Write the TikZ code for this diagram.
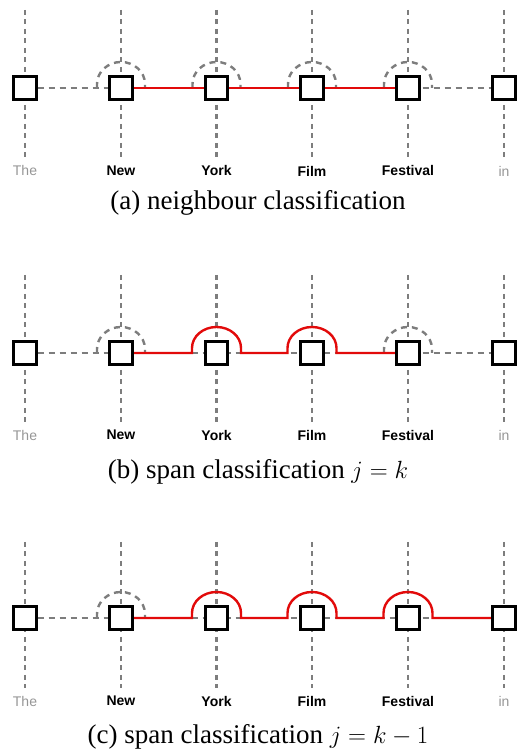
\documentclass[tikz,border=0pt]{standalone}
\usepackage{fontspec}
\setmainfont{Liberation Serif}
\setsansfont{Liberation Sans}
\usetikzlibrary{backgrounds}
\definecolor{gline}{RGB}{125,125,125}
\definecolor{glab}{RGB}{150,150,150}
\definecolor{redc}{RGB}{226,10,10}
\tikzset{
  sq/.style={draw=black, line width=2.6pt, fill=white, minimum size=22.5pt, inner sep=0pt},
  gdash/.style={draw=gline, line width=2.4pt, dash pattern=on 6pt off 5pt},
  vdash/.style={draw=gline, line width=2.4pt, dash pattern=on 5pt off 4.5pt},
  redl/.style={draw=redc, line width=2.4pt},
  wlab/.style={font=\fontsize{14}{16}\selectfont\sffamily\bfseries, inner sep=0pt},
  glabel/.style={font=\fontsize{14}{16}\selectfont\sffamily, text=glab, inner sep=0pt},
  captext/.style={font=\fontsize{27}{30}\selectfont, inner sep=0pt}
}
\newcommand\mypanel[5]{%
  % #1 prefix, #2 row y, #3 top y, #4 bottom y, #5 label y
  \foreach \i/\x in {1/25,2/121,3/216.5,4/312,5/408,6/504}{
    \node[sq] (#1\i) at (\x,#2) {};
    \coordinate (#1\i t) at (\x,#3);
    \coordinate (#1\i b) at (\x,#4);
  }
  \node[glabel] (#1l1) at (25,#5) {The};
  \node[wlab] (#1l2) at (121,#5) {New};
  \node[wlab] (#1l3) at (216.5,#5) {York};
  \node[wlab] (#1l4) at (312,#5) {Film};
  \node[wlab] (#1l5) at (408,#5) {Festival};
  \node[glabel] (#1l6) at (504,#5) {in};
  \begin{pgfonlayer}{background}
    \foreach \i in {1,...,6}{\draw[vdash] (#1\i t) -- (#1\i b);}
    \draw[gdash] (#11.east) -- (#16.west);
  \end{pgfonlayer}
}
\newcommand\humpdash[1]{%
  \draw[gdash] ([xshift=-24pt]#1.center) -- ++(0pt,4pt)
    arc[start angle=180, end angle=0, x radius=24pt, y radius=22pt] -- ++(0pt,-4pt);}
\begin{document}
\begin{tikzpicture}[x=1pt,y=1pt]
\useasboundingbox (0,0) rectangle (525,750);
% panel a
\mypanel{a}{662}{740}{592}{579}
\begin{pgfonlayer}{background}
  \humpdash{a2}\humpdash{a3}\humpdash{a4}\humpdash{a5}
  \draw[redl] (a2.east) -- (a3.west);
  \draw[redl] (a3.east) -- (a4.west);
  \draw[redl] (a4.east) -- (a5.west);
\end{pgfonlayer}
\node[captext] (capa) at (258,547) {(a) neighbour classification};
% panel b
\mypanel{b}{397}{475}{327}{315}
\begin{pgfonlayer}{background}
  \humpdash{b2}\humpdash{b5}
  \draw[redl] (b2.east) -- ([xshift=-24.5pt]b3.center) -- ++(0pt,5pt)
    arc[start angle=180, end angle=0, x radius=24.5pt, y radius=21pt] -- ++(0pt,-5pt)
    -- ([xshift=-24.5pt]b4.center) -- ++(0pt,5pt)
    arc[start angle=180, end angle=0, x radius=24.5pt, y radius=21pt] -- ++(0pt,-5pt)
    -- (b5.west);
\end{pgfonlayer}
\node[captext] (capb) at (258,278) {(b) span classification $j=k$};
% panel c
\mypanel{c}{132}{208}{62}{49}
\begin{pgfonlayer}{background}
  \humpdash{c2}
  \draw[redl] (c2.east) -- ([xshift=-24.5pt]c3.center) -- ++(0pt,5pt)
    arc[start angle=180, end angle=0, x radius=24.5pt, y radius=21pt] -- ++(0pt,-5pt)
    -- ([xshift=-24.5pt]c4.center) -- ++(0pt,5pt)
    arc[start angle=180, end angle=0, x radius=24.5pt, y radius=21pt] -- ++(0pt,-5pt)
    -- ([xshift=-24.5pt]c5.center) -- ++(0pt,5pt)
    arc[start angle=180, end angle=0, x radius=24.5pt, y radius=21pt] -- ++(0pt,-5pt)
    -- (c6.west);
\end{pgfonlayer}
\node[captext] (capc) at (258,13) {(c) span classification $j=k-1$};
\end{tikzpicture}
\end{document}
